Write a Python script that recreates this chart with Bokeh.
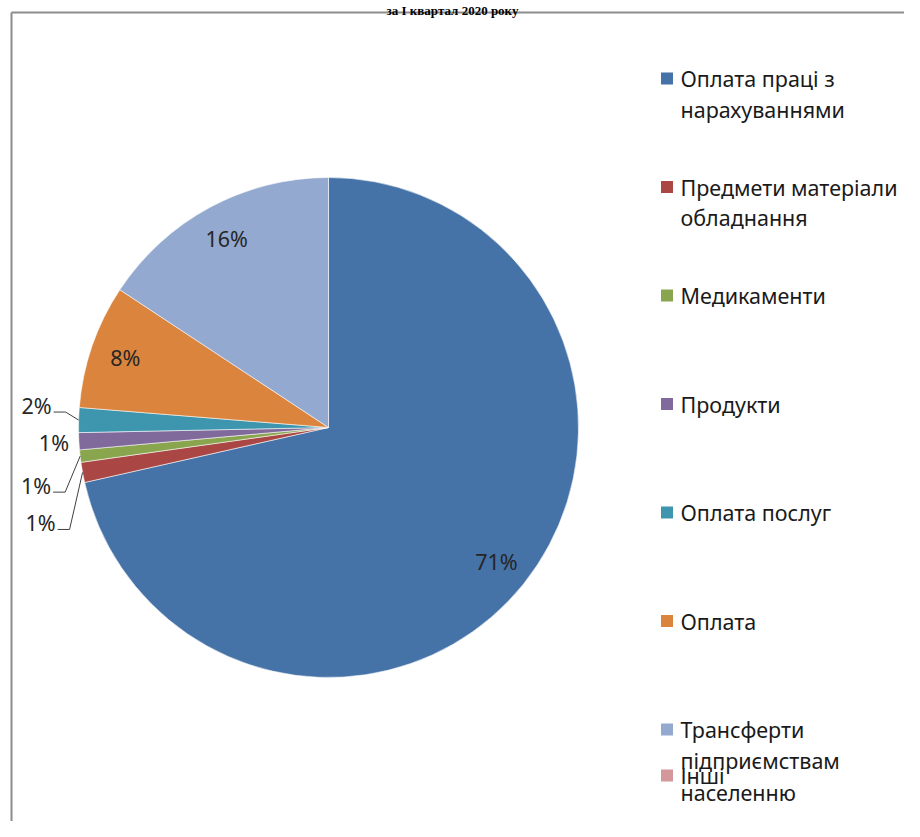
import math
from bokeh.plotting import figure
from bokeh.models import Range1d
from bokeh.core.properties import value
from bokeh.embed import file_html
from bokeh.resources import INLINE

# ---------------- data ----------------
title_text = "за I квартал 2020 року"
categories = [
    "Оплата праці з\nнарахуваннями",
    "Предмети матеріали\nобладнання",
    "Медикаменти",
    "Продукти",
    "Оплата послуг",
    "Оплата",
    "Трансферти\nпідприємствам",
    "Інші\nнаселенню",
]
shares = [71.4, 1.3, 0.8, 1.1, 1.6, 8.0, 15.7, 0.0]
colors = ["#4572A7", "#AA4643", "#89A54E", "#80699B", "#3D96AE", "#DB843D", "#93A9CF", "#D4979A"]
# label placement style per slice: "in", "out", "leader", or None (hidden)
label_mode = ["in", "leader", "leader", "out", "leader", "in", "in", None]
leader_offset = [None, (-42, 50), (-44, 29), None, (-42, -15), None, None, None]

# ---------------- geometry / style ----------------
W, H = 904, 821
FONT = "Noto Sans"
FS = "21.5px"


def X(px):
    return px


def Y(py):
    return H - py


cx, cy, R = X(328), Y(427), 250

p = figure(width=W, height=H, x_range=Range1d(0, W), y_range=Range1d(0, H),
           output_backend="svg", toolbar_location=None,
           x_axis_type=None, y_axis_type=None, min_border=0)
p.grid.visible = False
p.outline_line_color = None
p.background_fill_color = "white"

# frame borders (clipped page)
p.line(x=[X(11), X(11)], y=[0, Y(12)], line_color="#8c8c8c", line_width=2)
p.line(x=[X(11), W], y=[Y(12), Y(12)], line_color="#8c8c8c", line_width=2)

# title (strip at the very top, as in the cropped page)
p.text(x=[X(452)], y=[Y(10)], text=[title_text], text_font=value("Liberation Serif"),
       text_font_style="bold", text_font_size="13px", text_align="center",
       text_baseline="alphabetic", text_color="black")

# pie wedges
total = sum(shares)
starts, ends, mids = [], [], []
cum = 0.0
for v in shares:
    a0 = math.pi / 2 - 2 * math.pi * cum / total
    cum += v
    a1 = math.pi / 2 - 2 * math.pi * cum / total
    starts.append(a0)
    ends.append(a1)
    mids.append((a0 + a1) / 2)

wi = [i for i, v in enumerate(shares) if v > 0]
p.wedge(x=cx, y=cy, radius=R,
        start_angle=[starts[i] for i in wi], end_angle=[ends[i] for i in wi],
        direction="clock", fill_color=[colors[i] for i in wi],
        line_color="white", line_width=0.8, line_alpha=0.7)

# data labels
lx, ly, lt = [], [], []
for i, v in enumerate(shares):
    mode = label_mode[i]
    if mode is None:
        continue
    txt = f"{round(v / total * 100)}%"
    m = mids[i]
    if mode == "in":
        x, y = cx + 0.86 * R * math.cos(m), cy + 0.86 * R * math.sin(m)
    elif mode == "out":
        x, y = cx + 1.1 * R * math.cos(m), cy + 1.1 * R * math.sin(m)
    else:
        rx, ry = cx + R * math.cos(m), cy + R * math.sin(m)
        dx, dy = leader_offset[i]
        x, y = rx + dx, ry - dy
        ey = y - 7
        p.line(x=[x + 17, x + 29, rx], y=[ey, ey, ry], line_color="#404040", line_width=1)
    lx.append(x)
    ly.append(y)
    lt.append(txt)

p.text(x=lx, y=ly, text=lt, text_font=value(FONT), text_font_size=FS,
       text_align="center", text_baseline="middle", text_color="#262626")

# legend
sq_x, sq_y, tx, ty, tt = [], [], [], [], []
for i, cat in enumerate(categories):
    lines = cat.split("\n")
    if i < 7:
        y0 = 78 + i * 108.5
        gap = 30.5
    else:
        y0 = 775
        gap = 17
    sq_x.append(X(666.5))
    sq_y.append(Y(y0))
    for k, line in enumerate(lines):
        tx.append(X(680))
        ty.append(Y(y0 + k * gap))
        tt.append(line)

p.rect(x=sq_x, y=sq_y, width=12, height=12, fill_color=colors, line_color=None)
p.text(x=tx, y=ty, text=tt, text_font=value(FONT), text_font_size=FS,
       text_align="left", text_baseline="middle", text_color="#1a1a1a")

open("out.html", "w").write(file_html(p, INLINE))
